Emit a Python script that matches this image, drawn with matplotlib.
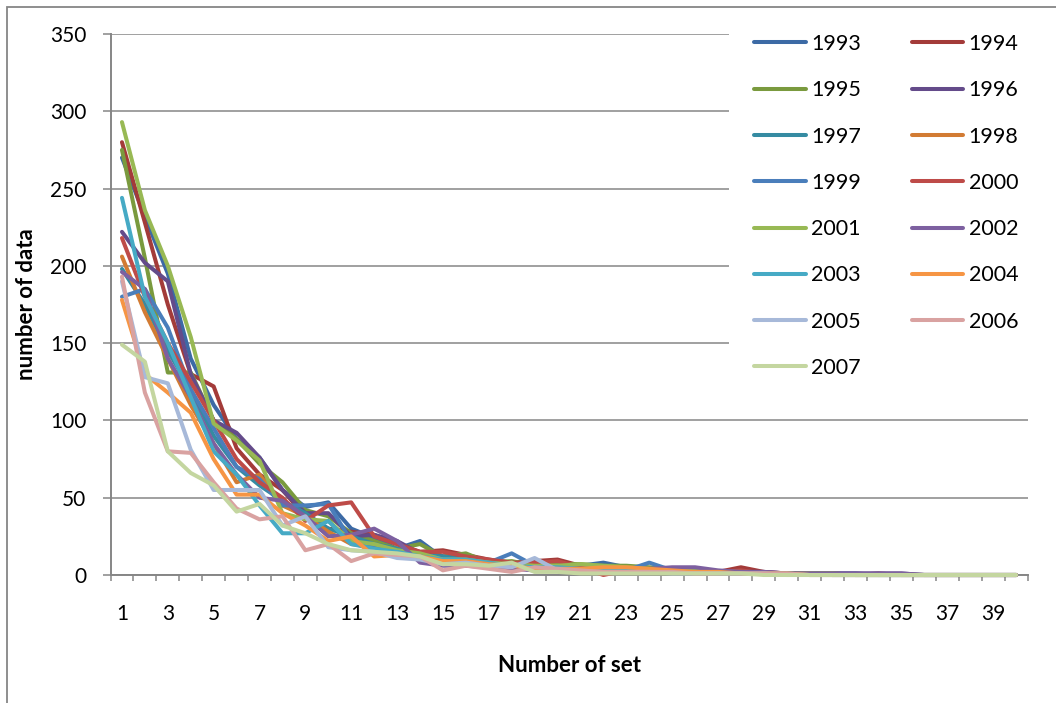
import matplotlib
matplotlib.use('Agg')
import matplotlib.pyplot as plt
from matplotlib.patches import Rectangle
import numpy as np

# number of set (categories 1..40)
sets = list(range(1, 41))

years = ['1993', '1994', '1995', '1996', '1997', '1998', '1999', '2000',
         '2001', '2002', '2003', '2004', '2005', '2006', '2007']

y1993 = [270, 232, 195, 140, 110, 88, 76, 55, 44, 47, 30, 24, 17, 22, 11, 12, 8, 7, 5, 6,
         6, 8, 5, 4, 3, 3, 2, 2, 1, 1, 1, 1, 1, 0, 0, 0, 0, 0, 0, 0]
y1994 = [280, 228, 175, 130, 122, 82, 65, 55, 38, 30, 28, 26, 20, 15, 16, 13, 10, 8, 9, 10,
         6, 5, 5, 4, 3, 3, 2, 5, 2, 1, 1, 1, 0, 1, 0, 0, 0, 0, 0, 0]
y1995 = [275, 205, 131, 131, 100, 88, 72, 60, 42, 38, 27, 22, 17, 20, 12, 14, 8, 9, 6, 7,
         7, 6, 6, 5, 4, 3, 2, 2, 1, 1, 1, 1, 0, 0, 0, 0, 0, 0, 0, 0]
y1996 = [222, 202, 190, 130, 100, 92, 76, 55, 40, 40, 25, 26, 22, 14, 12, 10, 9, 7, 5, 5,
         4, 4, 4, 3, 4, 3, 2, 2, 2, 1, 1, 1, 1, 1, 1, 0, 0, 0, 0, 0]
y1997 = [198, 175, 145, 120, 90, 70, 58, 48, 40, 30, 25, 20, 17, 13, 12, 10, 8, 6, 5, 5,
         4, 4, 3, 3, 2, 2, 2, 1, 1, 1, 1, 0, 0, 0, 0, 0, 0, 0, 0, 0]
y1998 = [206, 170, 140, 110, 85, 60, 65, 45, 38, 28, 20, 18, 14, 12, 10, 9, 7, 6, 5, 4,
         4, 3, 3, 2, 2, 2, 1, 1, 1, 1, 0, 0, 0, 0, 0, 0, 0, 0, 0, 0]
y1999 = [180, 185, 160, 120, 95, 70, 62, 45, 45, 46, 22, 18, 15, 14, 10, 10, 8, 14, 6, 5,
         5, 4, 3, 8, 3, 2, 2, 1, 1, 1, 1, 0, 0, 0, 0, 0, 0, 0, 0, 0]
y2000 = [218, 180, 150, 125, 100, 75, 60, 50, 35, 45, 47, 25, 20, 15, 15, 12, 10, 8, 8, 9,
         5, 0, 3, 3, 2, 2, 2, 3, 1, 1, 1, 0, 0, 0, 0, 0, 0, 0, 0, 0]
y2001 = [293, 236, 200, 154, 98, 87, 74, 40, 36, 35, 22, 20, 16, 14, 10, 10, 8, 7, 6, 6,
         7, 6, 5, 4, 4, 3, 2, 2, 1, 1, 1, 1, 0, 0, 0, 0, 0, 0, 0, 0]
y2002 = [196, 185, 140, 115, 85, 65, 50, 48, 38, 25, 26, 30, 22, 8, 6, 6, 5, 4, 3, 3,
         3, 4, 4, 4, 5, 5, 3, 2, 2, 1, 1, 1, 1, 1, 1, 0, 0, 0, 0, 0]
y2003 = [244, 180, 150, 115, 80, 65, 45, 27, 27, 35, 20, 17, 15, 12, 10, 10, 8, 6, 5, 5,
         4, 3, 3, 3, 2, 2, 1, 1, 1, 1, 0, 0, 0, 0, 0, 0, 0, 0, 0, 0]
y2004 = [178, 130, 118, 105, 75, 52, 52, 40, 32, 22, 25, 12, 13, 12, 9, 9, 7, 6, 4, 4,
         4, 5, 5, 4, 3, 2, 2, 1, 1, 1, 0, 0, 0, 0, 0, 0, 0, 0, 0, 0]
y2005 = [190, 128, 124, 81, 55, 55, 55, 32, 38, 18, 16, 15, 11, 10, 7, 8, 6, 5, 11, 3,
         2, 2, 2, 2, 1, 1, 1, 1, 1, 0, 0, 0, 0, 0, 0, 0, 0, 0, 0, 0]
y2006 = [193, 118, 80, 79, 60, 43, 36, 38, 16, 20, 9, 14, 13, 12, 3, 6, 4, 2, 5, 4,
         3, 2, 2, 2, 2, 1, 1, 1, 1, 1, 0, 0, 0, 0, 0, 0, 0, 0, 0, 0]
y2007 = [149, 138, 80, 66, 58, 41, 46, 32, 27, 20, 16, 15, 14, 12, 7, 7, 6, 8, 2, 2,
         1, 1, 1, 1, 1, 1, 1, 1, 0, 0, 0, 0, 0, 0, 0, 0, 0, 0, 0, 0]

series = [y1993, y1994, y1995, y1996, y1997, y1998, y1999, y2000,
          y2001, y2002, y2003, y2004, y2005, y2006, y2007]

colors = ['#3C6AA5', '#A33B39', '#7A9A3E', '#644B8A', '#358BA2', '#D27B33',
          '#4A7EBB', '#BE4B48', '#98B954', '#7D60A0', '#46AAC5', '#F69544',
          '#A7B9D9', '#D9A2A1', '#C4D6A0']

plt.rcParams['font.family'] = ['Lato', 'DejaVu Sans']
GRAY = '#868686'

fig = plt.figure(figsize=(10.56, 7.03), dpi=100)
ax = fig.add_axes([110.5 / 1056, 128 / 703, 917 / 1056, 541 / 703])

handles = []
for vals, yr, c in zip(series, years, colors):
    h, = ax.plot(sets, vals, color=c, lw=2.9, label=yr, clip_on=False,
                 solid_capstyle='round', solid_joinstyle='round', zorder=3)
    handles.append(h)

ax.set_xlim(0.5, 40.5)
ax.set_ylim(0, 350)

ax.set_yticks(np.arange(0, 351, 50))
ax.set_xticks(range(1, 40, 2))
ax.set_xticks(np.arange(0.5, 40.6, 1), minor=True)

ax.grid(axis='y', color=GRAY, lw=1.1)
ax.set_axisbelow(True)

for s in ['top', 'right']:
    ax.spines[s].set_visible(False)
for s in ['left', 'bottom']:
    ax.spines[s].set_color(GRAY)
    ax.spines[s].set_linewidth(1.4)

ax.tick_params(axis='y', length=5.8, width=1.1, color=GRAY, pad=11.5, labelsize=15)
ax.tick_params(axis='x', which='major', length=0, pad=21, labelsize=15)
ax.tick_params(axis='x', which='minor', length=4, width=1.1, color=GRAY)

ax.set_xlabel('Number of set', fontsize=16, fontweight='bold', va='center')
ax.xaxis.set_label_coords(0.5, (575 - 665) / 541)
ax.set_ylabel('number of data', fontsize=16, fontweight='bold', va='center')
ax.yaxis.set_label_coords((27 - 110.5) / 917, 0.5)

# white area behind the legend hides the upper gridlines
ax.add_patch(Rectangle(((729 - 110.5) / 917, (575 - 398) / 541), 0.4, 0.8,
                       transform=ax.transAxes, facecolor='white', edgecolor='none',
                       zorder=1, clip_on=False))

order = list(range(0, 15, 2)) + list(range(1, 15, 2))
ax.legend([handles[i] for i in order], [years[i] for i in order], ncol=2,
          loc='upper left', bbox_to_anchor=(754 / 1056, 1 - 34 / 703),
          bbox_transform=fig.transFigure, frameon=False, fontsize=15.5,
          borderpad=0, handlelength=2.4, handletextpad=0.25,
          columnspacing=2.35, labelspacing=1.22, borderaxespad=0)

# chart border (cropped on right and bottom)
fig.patches.append(Rectangle((7 / 1056, -0.1), 1.2, 1.1 - 7 / 703,
                             transform=fig.transFigure, fill=False,
                             edgecolor=GRAY, lw=1.3))

fig.savefig('out.png', dpi=100)
